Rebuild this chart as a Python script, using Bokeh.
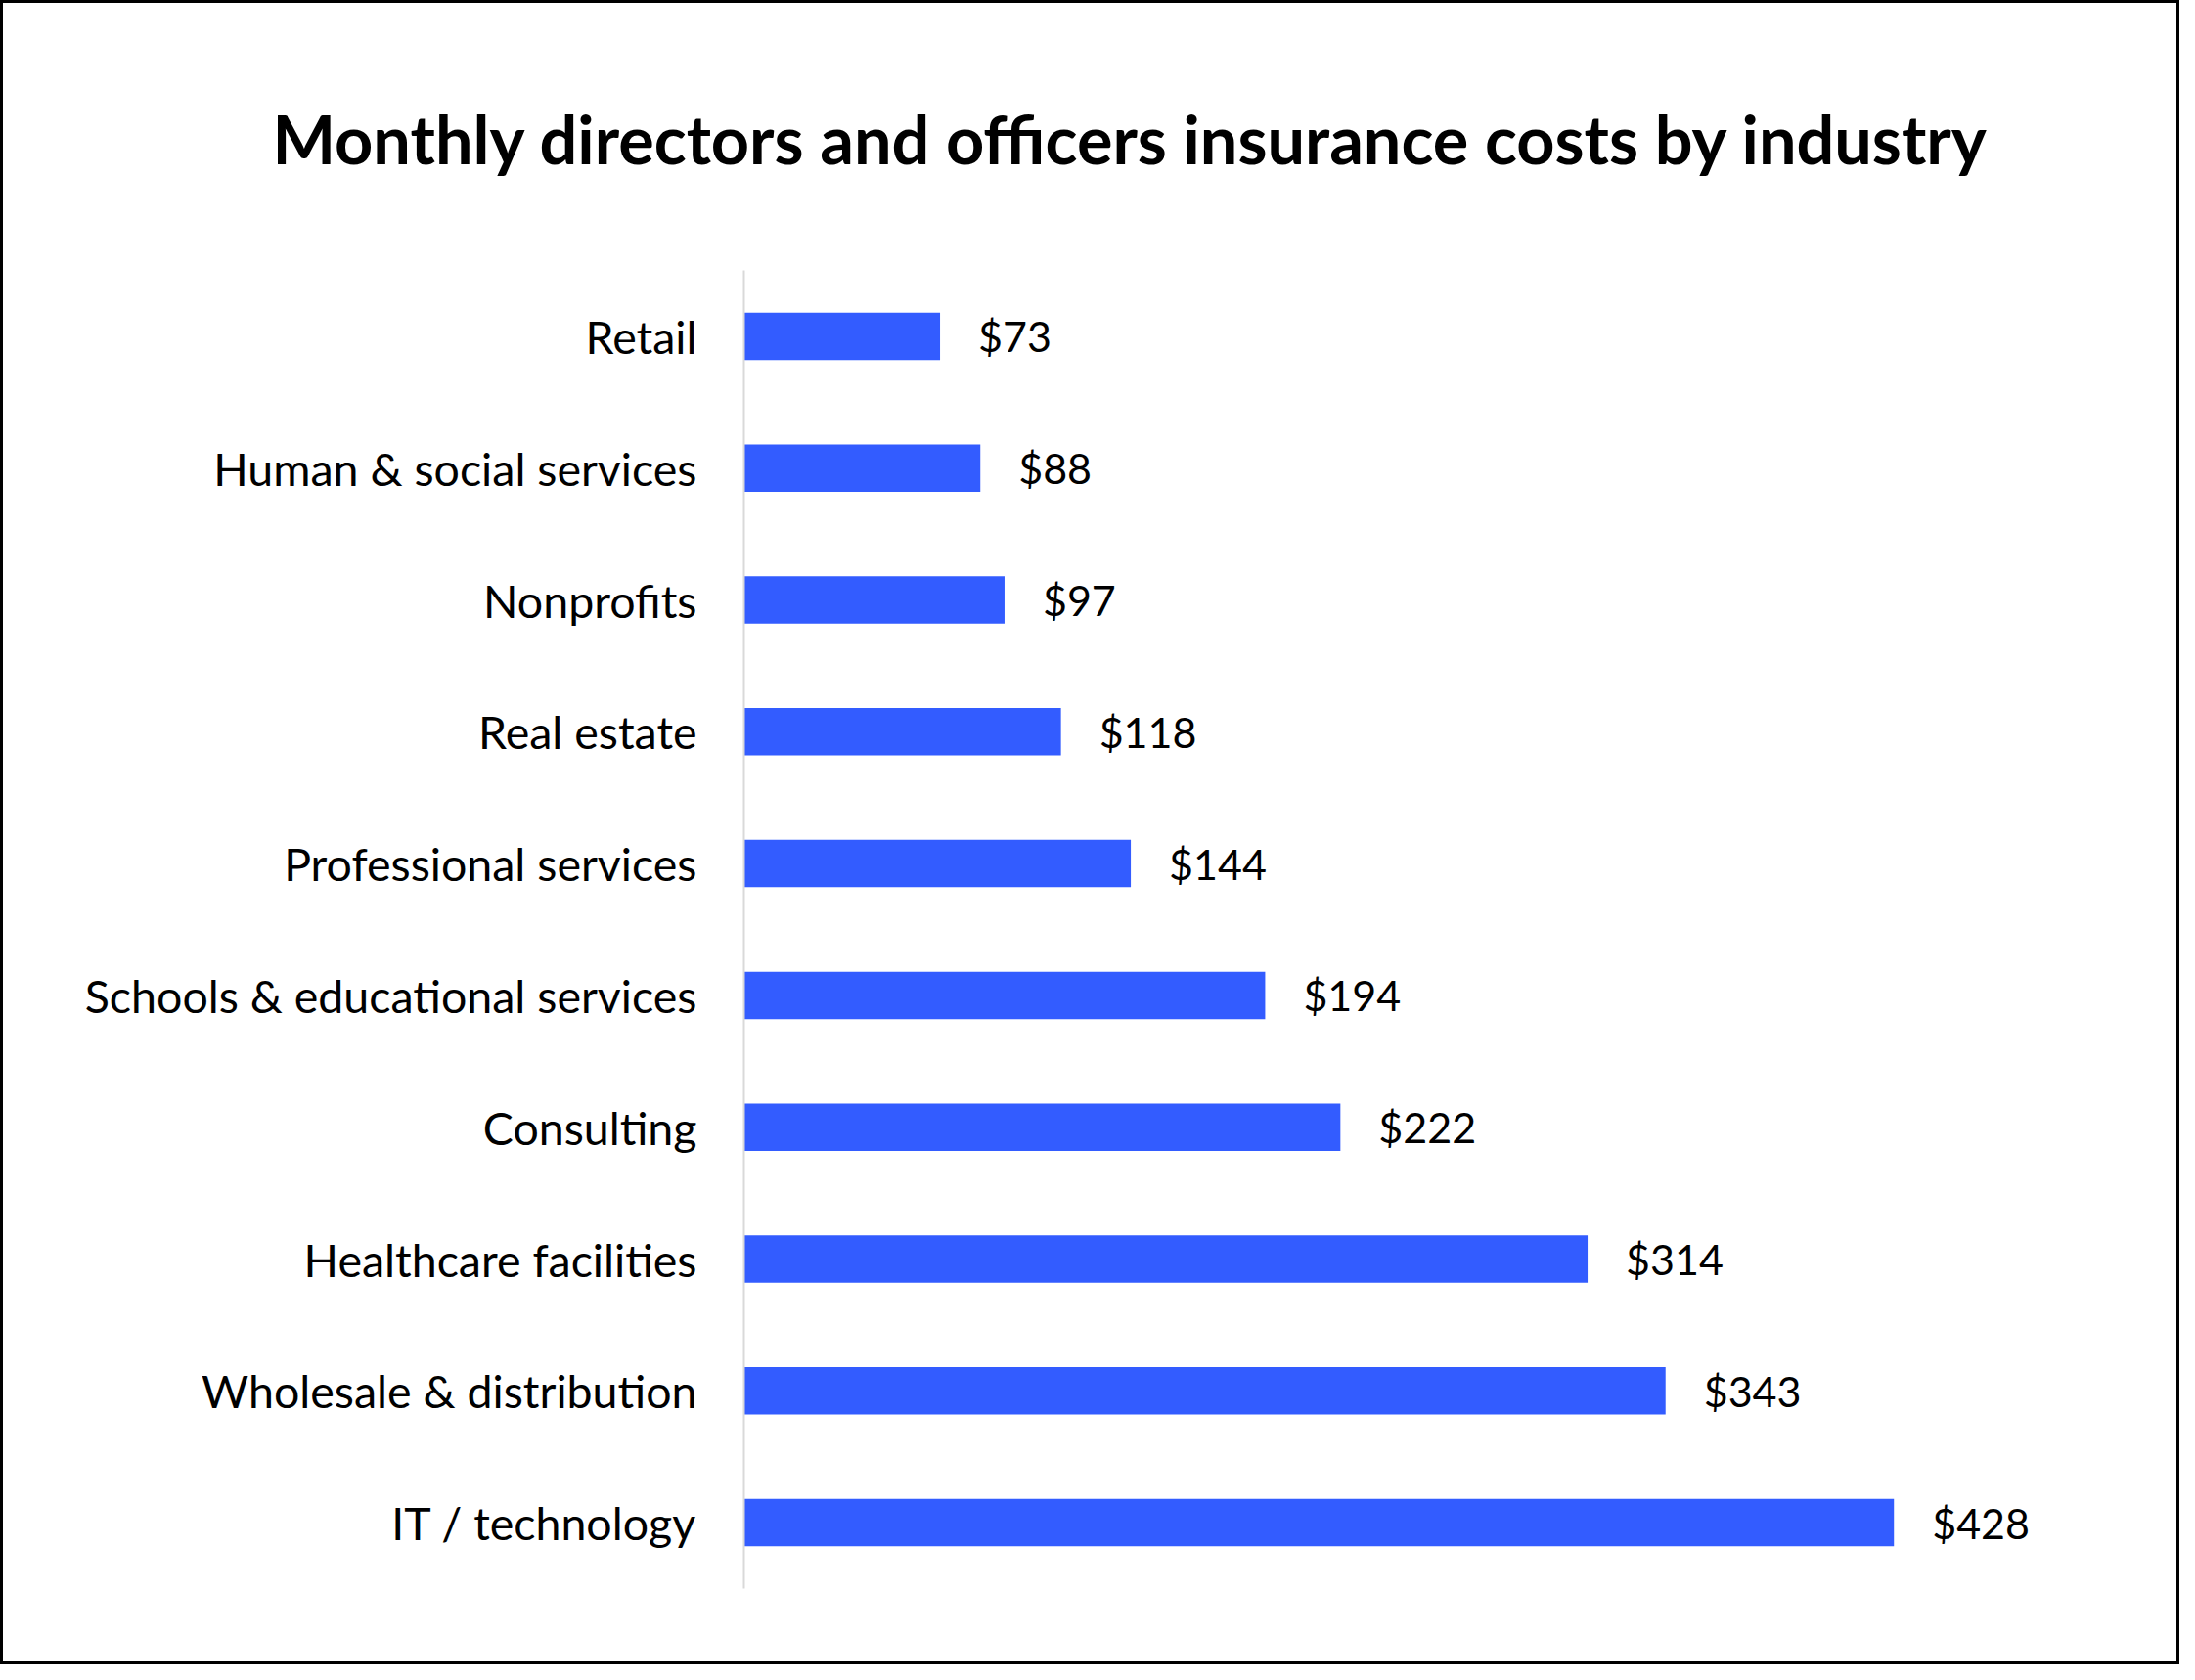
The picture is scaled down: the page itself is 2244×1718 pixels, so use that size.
from bokeh.plotting import figure
from bokeh.models import FactorRange, Range1d, ColumnDataSource
from bokeh.core.properties import value
from bokeh.embed import file_html
from bokeh.resources import INLINE

industries = ["Retail", "Human & social services", "Nonprofits", "Real estate",
              "Professional services", "Schools & educational services",
              "Consulting", "Healthcare facilities", "Wholesale & distribution",
              "IT / technology"]
costs = [73, 88, 97, 118, 144, 194, 222, 314, 343, 428]
cost_labels = ["$" + str(c) for c in costs]

TITLE = "Monthly directors and officers insurance costs by industry"
FONT = "Lato"
BAR_COLOR = "#335CFF"

src = ColumnDataSource(dict(ind=industries, cost=costs, lab=cost_labels))

W, H = 2228, 1702
BL, BR, BT, BB = 757, 92, 269, 81
p = figure(width=W, height=H, output_backend="svg", toolbar_location=None,
           y_range=FactorRange(factors=list(reversed(industries))),
           x_range=Range1d(0, 502),
           min_border_left=BL, min_border_right=BR,
           min_border_top=BT, min_border_bottom=BB)
p.styles = {"border": "3px solid black", "box-sizing": "border-box"}

p.hbar(y="ind", right="cost", left=0, height=0.36, source=src,
       fill_color=BAR_COLOR, line_color=None)
p.text(x="cost", y="ind", text="lab", source=src, x_offset=39,
       text_baseline="middle", text_align="left",
       text_font=value(FONT), text_font_size="43px", text_color="black")

p.title.text = TITLE
p.title.text_font = FONT
p.title.text_font_style = "bold"
p.title.text_font_size = "68.4px"
p.title.text_color = "black"
p.title.align = "left"
p.title.offset = -482
p.title.standoff = 188

p.xaxis.visible = False
p.xgrid.visible = False
p.ygrid.visible = False
p.outline_line_color = None

ya = p.yaxis[0]
ya.axis_line_color = "#d9d9d9"
ya.axis_line_width = 2
ya.major_tick_line_color = None
ya.minor_tick_line_color = None
ya.major_tick_out = 0
ya.major_label_standoff = 48
ya.major_label_text_font = FONT
ya.major_label_text_font_size = "46.5px"
ya.major_label_text_color = "black"

open("out.html", "w").write(file_html(p, INLINE))
